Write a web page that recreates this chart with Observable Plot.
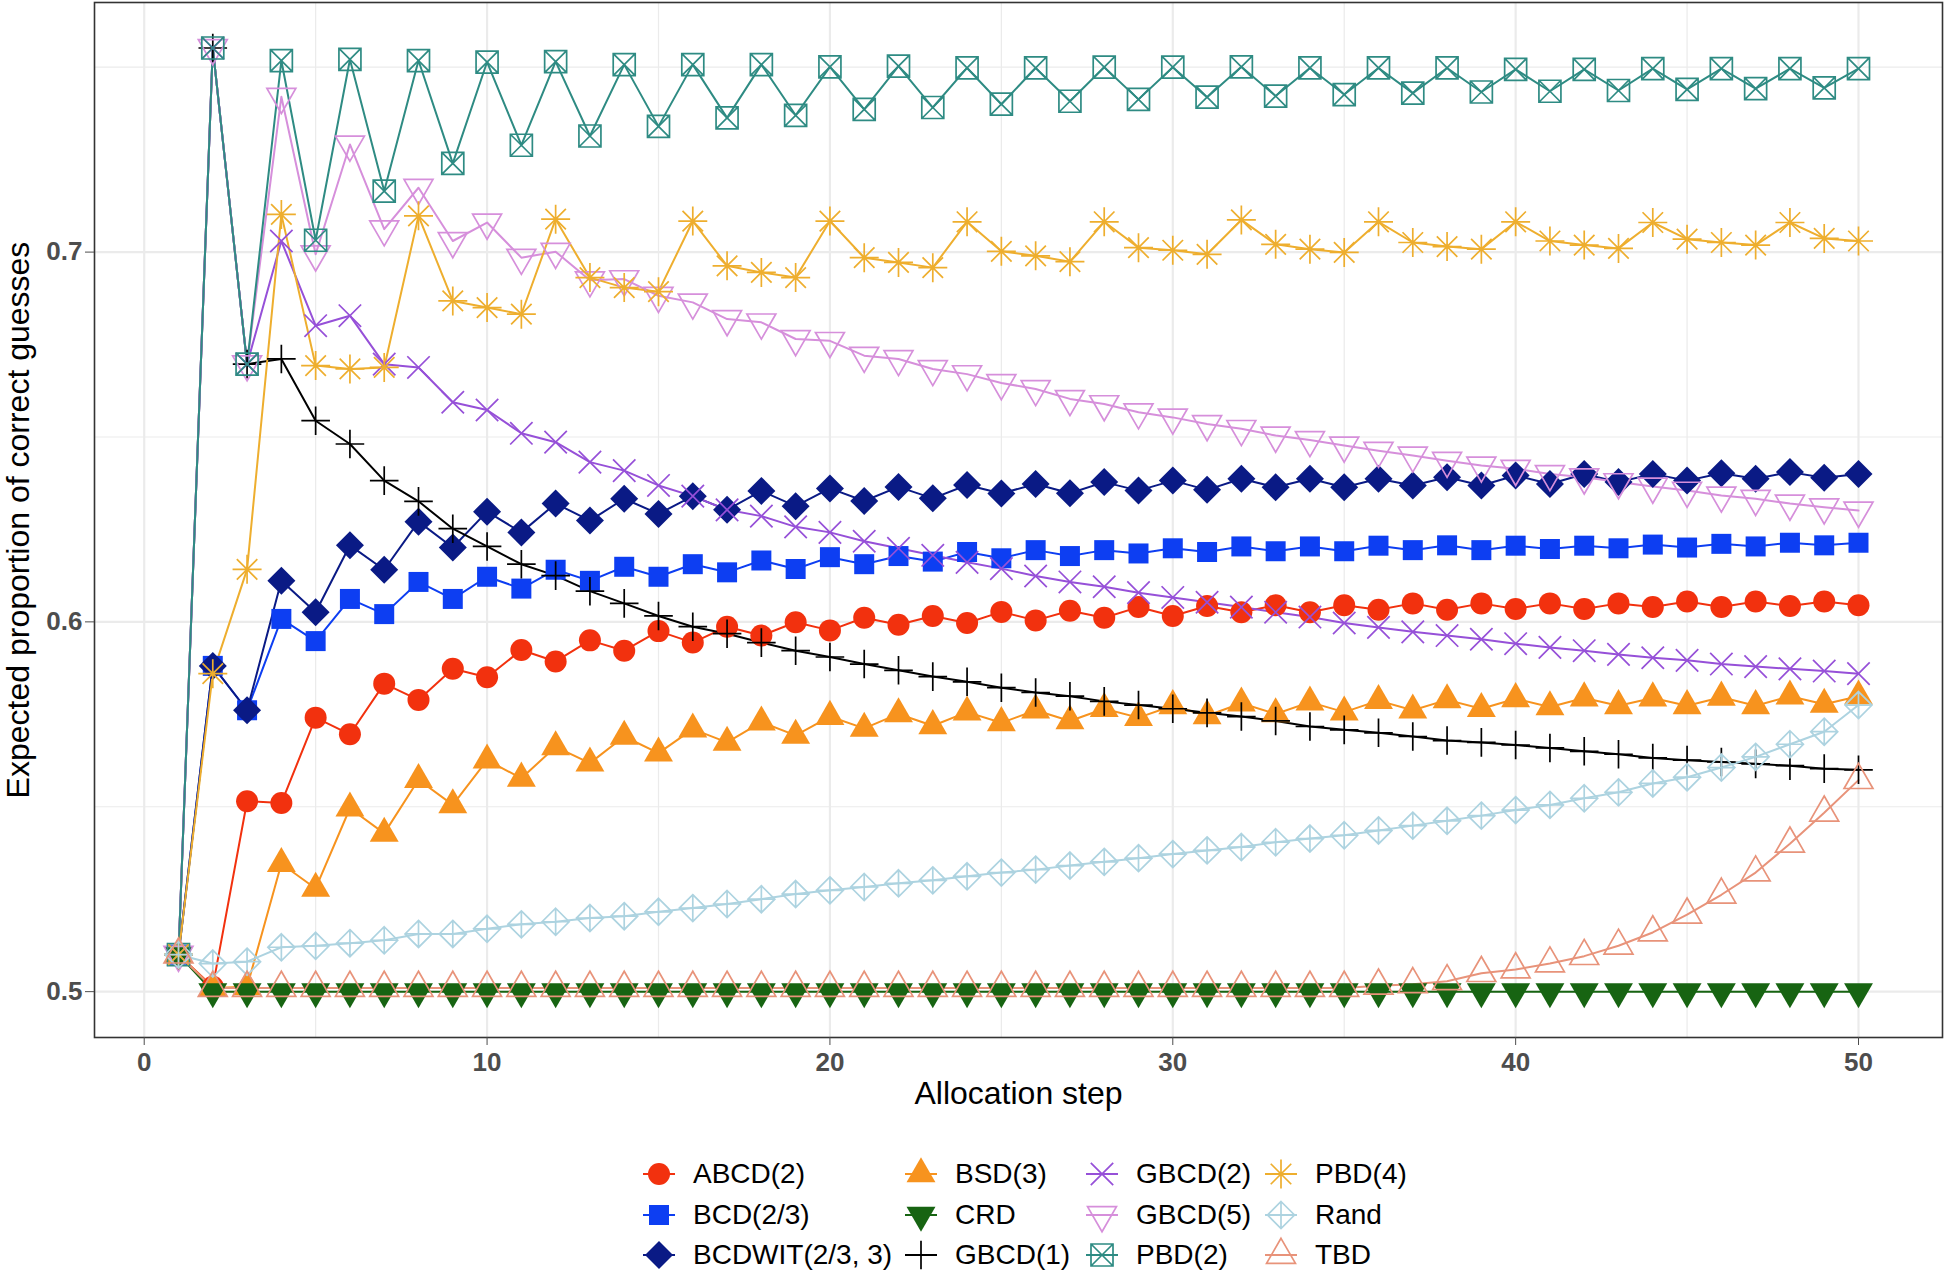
<!DOCTYPE html>
<html><head><meta charset="utf-8">
<script src="https://cdn.jsdelivr.net/npm/d3@7"></script>
<script src="https://cdn.jsdelivr.net/npm/@observablehq/plot@0.6"></script>
<style>
html,body{margin:0;padding:0;background:#fff;overflow:hidden;width:1944px;height:1271px;}
#chart{position:absolute;left:0;top:0;}
.li{position:absolute;height:40px;display:flex;align-items:center;font-family:"Liberation Sans",Arial,sans-serif;font-size:28px;color:#000;white-space:nowrap;}
.li svg{display:block;flex:none;}
.li span{margin-left:16px;}
</style></head><body>
<div id="chart"></div>
<div id="legend"></div>
<script>
// ---------- data ----------
const steps = d3.range(1, 51);
const xTicks = [0, 10, 20, 30, 40, 50];
const yTicks = [0.5, 0.6, 0.7];
const series = ["ABCD(2)", "BCD(2/3)", "BCDWIT(2/3, 3)", "BSD(3)", "CRD", "GBCD(1)", "GBCD(2)", "GBCD(5)", "PBD(2)", "PBD(4)", "Rand", "TBD"];

const ABCD2 = [0.51,0.5013,0.5515,0.551,0.5741,0.5696,0.5833,0.5789,0.5873,0.585,0.5924,0.5893,0.595,0.5922,0.5975,0.5944,0.5987,0.5963,0.5999,0.5977,0.6011,0.5992,0.6016,0.5997,0.6027,0.6004,0.603,0.6011,0.604,0.6016,0.6043,0.6026,0.6045,0.6026,0.6045,0.6033,0.605,0.6033,0.605,0.6035,0.605,0.6035,0.605,0.604,0.6055,0.604,0.6055,0.6043,0.6055,0.6045];
const BCD23 = [0.51,0.5881,0.5761,0.6008,0.5948,0.6062,0.6021,0.6108,0.6062,0.6122,0.609,0.6141,0.6111,0.6149,0.6122,0.6156,0.6134,0.6166,0.6143,0.6175,0.6156,0.6178,0.6163,0.6189,0.6172,0.6194,0.6178,0.6194,0.6185,0.6199,0.6189,0.6204,0.6191,0.6204,0.6191,0.6206,0.6194,0.6207,0.6194,0.6206,0.6197,0.6206,0.6199,0.6209,0.6201,0.6211,0.6204,0.6214,0.6207,0.6214];
const BCDWIT = [0.51,0.5881,0.5761,0.6111,0.6026,0.6207,0.6141,0.6271,0.6201,0.6298,0.6242,0.632,0.6274,0.6333,0.6292,0.634,0.6303,0.6354,0.6313,0.6361,0.6327,0.6365,0.6334,0.637,0.6347,0.6373,0.6348,0.6378,0.6355,0.6382,0.6357,0.6387,0.6364,0.6387,0.6364,0.6387,0.6369,0.6391,0.6369,0.6396,0.6373,0.64,0.6378,0.64,0.6382,0.6402,0.6387,0.6405,0.639,0.64];
const BSD3 = [0.51,0.501,0.5013,0.5346,0.5279,0.5496,0.5428,0.5573,0.5505,0.5626,0.5577,0.5662,0.5618,0.569,0.5645,0.571,0.5674,0.5729,0.5693,0.5744,0.5712,0.5751,0.5719,0.5756,0.5727,0.5761,0.5732,0.5765,0.5741,0.5773,0.5746,0.578,0.5751,0.5783,0.5756,0.5787,0.5761,0.5789,0.5765,0.5792,0.577,0.5794,0.5773,0.5794,0.5773,0.5796,0.5773,0.5799,0.5777,0.5799];
const CRD = [0.51,0.5,0.5,0.5,0.5,0.5,0.5,0.5,0.5,0.5,0.5,0.5,0.5,0.5,0.5,0.5,0.5,0.5,0.5,0.5,0.5,0.5,0.5,0.5,0.5,0.5,0.5,0.5,0.5,0.5,0.5,0.5,0.5,0.5,0.5,0.5,0.5,0.5,0.5,0.5,0.5,0.5,0.5,0.5,0.5,0.5,0.5,0.5,0.5,0.5];
const GBCD1 = [0.51,0.7552,0.6697,0.6711,0.6544,0.6481,0.6382,0.6326,0.6252,0.6204,0.6156,0.6125,0.6083,0.605,0.6016,0.5987,0.5968,0.5944,0.5922,0.5905,0.5886,0.5869,0.5852,0.5838,0.5822,0.5809,0.5799,0.5785,0.5775,0.5765,0.5754,0.5744,0.5732,0.5717,0.5708,0.57,0.569,0.5679,0.5674,0.5667,0.5659,0.565,0.5642,0.5632,0.5626,0.5621,0.5616,0.5611,0.5603,0.56];
const GBCD2 = [0.51,0.7552,0.6697,0.703,0.6801,0.6828,0.6697,0.6688,0.6594,0.6573,0.651,0.6486,0.6432,0.6409,0.6369,0.634,0.6303,0.6286,0.6257,0.6242,0.6218,0.6199,0.618,0.6161,0.6144,0.6124,0.6108,0.6095,0.6079,0.6066,0.6053,0.604,0.6026,0.6013,0.5997,0.5985,0.5973,0.5963,0.5953,0.5941,0.5931,0.5922,0.5912,0.5903,0.5896,0.5886,0.5879,0.5873,0.5867,0.586];
const GBCD5 = [0.51,0.7552,0.6697,0.742,0.6994,0.7291,0.7062,0.7174,0.703,0.708,0.6985,0.7001,0.6924,0.6927,0.6882,0.6864,0.6819,0.681,0.6765,0.676,0.672,0.6711,0.6684,0.667,0.6646,0.663,0.6603,0.6589,0.6567,0.6553,0.6535,0.6522,0.6504,0.6492,0.6477,0.6463,0.645,0.6436,0.6423,0.6414,0.64,0.6391,0.6378,0.6366,0.6355,0.6342,0.6333,0.632,0.631,0.6301];
const PBD2 = [0.51,0.7552,0.6697,0.7518,0.7032,0.7521,0.7165,0.7518,0.724,0.7514,0.7289,0.7515,0.7314,0.7507,0.734,0.7507,0.7363,0.7507,0.737,0.7501,0.7386,0.7503,0.7391,0.7498,0.74,0.7498,0.7408,0.75,0.7413,0.75,0.7419,0.7501,0.7422,0.7498,0.7426,0.7498,0.743,0.7498,0.7433,0.7494,0.7435,0.7494,0.7437,0.7496,0.744,0.7496,0.7442,0.7496,0.7444,0.7496];
const PBD4 = [0.51,0.586,0.6142,0.7102,0.6693,0.6684,0.6688,0.7098,0.6868,0.685,0.6832,0.7089,0.6931,0.6904,0.6893,0.7084,0.6963,0.6945,0.6931,0.7084,0.6985,0.6972,0.6958,0.7082,0.7002,0.699,0.6974,0.7082,0.7012,0.7005,0.6994,0.7087,0.7021,0.7008,0.6999,0.7082,0.7026,0.7015,0.7008,0.7082,0.703,0.7019,0.701,0.708,0.7035,0.7026,0.7019,0.708,0.7037,0.703];
const Rand = [0.51,0.5076,0.5081,0.512,0.5124,0.5131,0.5139,0.5156,0.5156,0.517,0.5182,0.5189,0.5199,0.5204,0.5216,0.5226,0.5237,0.525,0.5264,0.5274,0.5283,0.5293,0.5301,0.5312,0.5322,0.533,0.5341,0.5351,0.5361,0.5372,0.5382,0.5391,0.5404,0.5414,0.5423,0.5436,0.5449,0.5462,0.5476,0.5491,0.5505,0.5523,0.5539,0.5563,0.558,0.5606,0.5635,0.5669,0.5703,0.5775];
const TBD = [0.51,0.501,0.501,0.501,0.501,0.501,0.501,0.501,0.501,0.501,0.501,0.501,0.501,0.501,0.501,0.501,0.501,0.501,0.501,0.501,0.501,0.501,0.501,0.501,0.501,0.501,0.501,0.501,0.501,0.501,0.501,0.501,0.501,0.501,0.501,0.5016,0.502,0.5028,0.505,0.506,0.5076,0.5096,0.5124,0.516,0.5208,0.5262,0.5322,0.54,0.5484,0.5572];

const values = [ABCD2, BCD23, BCDWIT, BSD3, CRD, GBCD1, GBCD2, GBCD5, PBD2, PBD4, Rand, TBD];

// ---------- styles ----------
const colors = ["#F2310E", "#0D3EF2", "#0A1A85", "#F7931E", "#176412", "#000000", "#9650D8", "#D68FDB", "#2E8B83", "#EEAE2E", "#ADD3E0", "#E8937A"];

function sym(fn) { return {draw(ctx, size) { fn(ctx, Math.sqrt(size / Math.PI)); }}; }
const S3 = Math.sqrt(3) / 2;
const symCircle = sym((c, r) => { c.moveTo(r, 0); c.arc(0, 0, r, 0, 2 * Math.PI); c.closePath(); });
const symSquare = sym((c, r) => { c.rect(-r, -r, 2 * r, 2 * r); });
const symDiamond = sym((c, r) => { c.moveTo(0, -r); c.lineTo(r, 0); c.lineTo(0, r); c.lineTo(-r, 0); c.closePath(); });
const symTriUp = sym((c, r) => { c.moveTo(0, -r); c.lineTo(r * S3, r / 2); c.lineTo(-r * S3, r / 2); c.closePath(); });
const symTriDown = sym((c, r) => { c.moveTo(0, r); c.lineTo(r * S3, -r / 2); c.lineTo(-r * S3, -r / 2); c.closePath(); });
const symPlus = sym((c, r) => { c.moveTo(-r, 0); c.lineTo(r, 0); c.moveTo(0, -r); c.lineTo(0, r); });
const symTimes = sym((c, r) => { c.moveTo(-r, -r); c.lineTo(r, r); c.moveTo(-r, r); c.lineTo(r, -r); });
const symSqCross = sym((c, r) => { c.rect(-r, -r, 2 * r, 2 * r); c.moveTo(-r, -r); c.lineTo(r, r); c.moveTo(-r, r); c.lineTo(r, -r); });
const symAsterisk = sym((c, r) => { const a = r / Math.SQRT2; c.moveTo(-r, 0); c.lineTo(r, 0); c.moveTo(0, -r); c.lineTo(0, r); c.moveTo(-a, -a); c.lineTo(a, a); c.moveTo(-a, a); c.lineTo(a, -a); });
const symDiamondPlus = sym((c, r) => { c.moveTo(0, -r); c.lineTo(r, 0); c.lineTo(0, r); c.lineTo(-r, 0); c.closePath(); c.moveTo(-r, 0); c.lineTo(r, 0); c.moveTo(0, -r); c.lineTo(0, r); });

const symbols = [symCircle, symSquare, symDiamond, symTriUp, symTriDown, symPlus, symTimes, symTriDown, symSqCross, symAsterisk, symDiamondPlus, symTriUp];
const sizes = [11, 10, 14, 16.7, 16.7, 14.3, 11.2, 16.7, 11, 14.5, 13.5, 16.7];
const filled = [true, true, true, true, true, false, false, false, false, false, false, false];

const data = series.flatMap((name, i) => values[i].map((v, j) => ({step: steps[j], value: v, series: name})));

const font = '"Liberation Sans", Arial, Helvetica, sans-serif';
const W = 1944, H = 1120;

const chart = Plot.plot({
  width: W, height: H,
  marginLeft: 94, marginRight: 2, marginTop: 2, marginBottom: 83,
  style: {fontFamily: font, background: "#fff"},
  x: {domain: [-1.45, 52.45]},
  y: {domain: [0.4876, 0.7675]},
  color: {domain: series, range: colors},
  marks: [
    Plot.gridX([5, 15, 25, 35, 45], {stroke: "#ebebeb", strokeOpacity: 1, strokeWidth: 1.2}),
    Plot.gridY([0.55, 0.65, 0.75], {stroke: "#ebebeb", strokeOpacity: 1, strokeWidth: 1.2}),
    Plot.gridX(xTicks, {stroke: "#ebebeb", strokeOpacity: 1, strokeWidth: 2.2}),
    Plot.gridY(yTicks, {stroke: "#ebebeb", strokeOpacity: 1, strokeWidth: 2.2}),
    Plot.line(data, {x: "step", y: "value", z: "series", stroke: "series", strokeWidth: 2}),
    ...series.map((name, i) => Plot.dot(data.filter(d => d.series === name), {
      x: "step", y: "value", symbol: symbols[i], r: sizes[i],
      fill: filled[i] ? colors[i] : "none",
      stroke: filled[i] ? "none" : colors[i],
      strokeWidth: 1.7
    })),
    Plot.frame({stroke: "#333333", strokeWidth: 1.6}),
    Plot.axisX(xTicks, {tickSize: 8, tickPadding: 7, fontSize: 26, fontWeight: "bold", color: "#4d4d4d", label: null}),
    Plot.axisY(yTicks, {tickSize: 9, tickPadding: 3, fontSize: 26, fontWeight: "bold", color: "#4d4d4d", tickFormat: d3.format(".1f"), label: null}),
    Plot.text(["Allocation step"], {frameAnchor: "bottom", dy: 66, fontSize: 32, fill: "#000", textAnchor: "middle"}),
    Plot.text(["Expected proportion of correct guesses"], {frameAnchor: "left", dx: -76, rotate: -90, fontSize: 32, fill: "#000", textAnchor: "middle"})
  ]
});
document.getElementById("chart").appendChild(chart);

// ---------- legend ----------
const legendCols = [641, 903, 1084, 1263];
const legendRows = [1174, 1215, 1255];
const legend = document.getElementById("legend");
series.forEach((name, i) => {
  const col = Math.floor(i / 3), row = i % 3;
  const div = document.createElement("div");
  div.className = "li";
  div.style.left = legendCols[col] + "px";
  div.style.top = (legendRows[row] - 20) + "px";
  const kw = 36, kh = 40;
  const svg = d3.create("svg").attr("width", kw).attr("height", kh);
  svg.append("line").attr("x1", 2).attr("x2", kw - 2).attr("y1", kh / 2).attr("y2", kh / 2)
    .attr("stroke", colors[i]).attr("stroke-width", 2);
  const p = d3.path();
  symbols[i].draw(p, sizes[i] * sizes[i] * Math.PI);
  svg.append("path").attr("d", p.toString()).attr("transform", `translate(${kw / 2},${kh / 2})`)
    .attr("fill", filled[i] ? colors[i] : "none")
    .attr("stroke", filled[i] ? "none" : colors[i]).attr("stroke-width", 1.7);
  div.appendChild(svg.node());
  const span = document.createElement("span");
  span.textContent = name;
  div.appendChild(span);
  legend.appendChild(div);
});
</script>
</body></html>
